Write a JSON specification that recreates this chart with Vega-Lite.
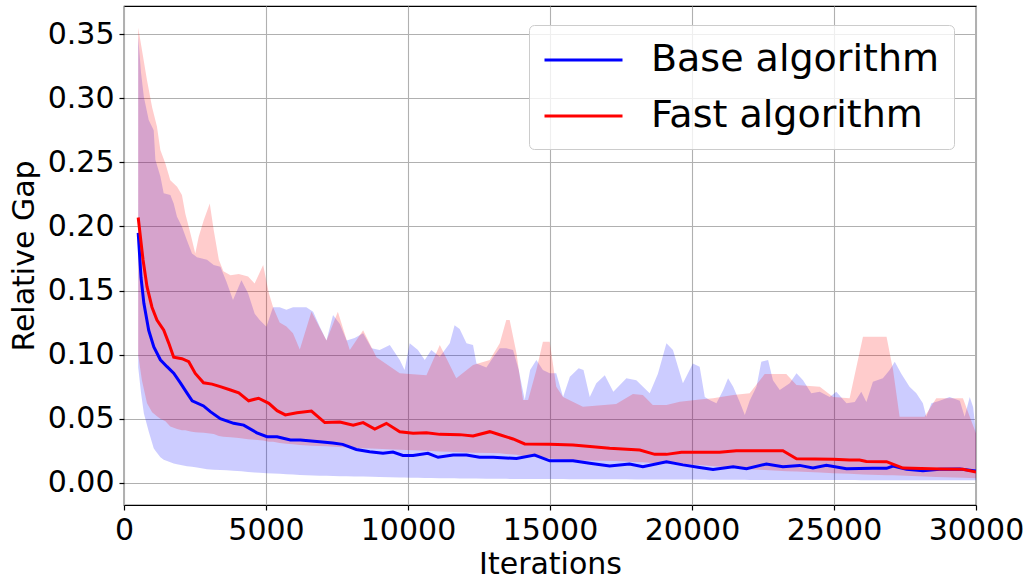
{
  "$schema": "https://vega.github.io/schema/vega-lite/v6.json",
  "width": 852,
  "height": 499,
  "autosize": "none",
  "padding": {"left": 124, "top": 6, "right": 53, "bottom": 76},
  "background": "white",
  "config": {
    "font": "DejaVu Sans",
    "view": {"stroke": "black", "strokeWidth": 1.2},
    "axis": {
      "labelFont": "DejaVu Sans", "titleFont": "DejaVu Sans",
      "labelFontSize": 30, "titleFontSize": 30,
      "labelColor": "black", "titleColor": "black",
      "titleFontWeight": "normal",
      "tickColor": "black", "tickSize": 5, "tickWidth": 1.2,
      "domain": false,
      "gridColor": "#b0b0b0", "gridWidth": 1.1, "gridOpacity": 1,
      "labelPadding": 5, "labelFlush": false, "labelOverlap": false
    },
    "legend": {
      "padding": 14, "rowPadding": 16,
      "symbolType": "M-1,0H3", "symbolSize": 1521, "symbolStrokeWidth": 3,
      "labelFont": "DejaVu Sans", "labelFontSize": 38, "labelColor": "black",
      "labelOffset": 66, "labelLimit": 1000,
      "strokeColor": "#cccccc", "fillColor": "rgba(255,255,255,0.8)", "cornerRadius": 5
    }
  },
  "datasets": {
    "bands": [
      {"s":"Base algorithm","x":500,"lo":0.090,"hi":0.348},
      {"s":"Base algorithm","x":600,"lo":0.070,"hi":0.320},
      {"s":"Base algorithm","x":700,"lo":0.054,"hi":0.301},
      {"s":"Base algorithm","x":870,"lo":0.040,"hi":0.283},
      {"s":"Base algorithm","x":1046,"lo":0.027,"hi":0.275},
      {"s":"Base algorithm","x":1105,"lo":0.025,"hi":0.252},
      {"s":"Base algorithm","x":1282,"lo":0.020,"hi":0.239},
      {"s":"Base algorithm","x":1398,"lo":0.018,"hi":0.226},
      {"s":"Base algorithm","x":1633,"lo":0.016,"hi":0.2245},
      {"s":"Base algorithm","x":1750,"lo":0.015,"hi":0.218},
      {"s":"Base algorithm","x":1866,"lo":0.0145,"hi":0.2076},
      {"s":"Base algorithm","x":2042,"lo":0.0138,"hi":0.1998},
      {"s":"Base algorithm","x":2218,"lo":0.013,"hi":0.189},
      {"s":"Base algorithm","x":2394,"lo":0.0125,"hi":0.179},
      {"s":"Base algorithm","x":2570,"lo":0.012,"hi":0.176},
      {"s":"Base algorithm","x":2923,"lo":0.0105,"hi":0.174},
      {"s":"Base algorithm","x":3158,"lo":0.0102,"hi":0.170},
      {"s":"Base algorithm","x":3394,"lo":0.010,"hi":0.1686},
      {"s":"Base algorithm","x":3605,"lo":0.0098,"hi":0.157},
      {"s":"Base algorithm","x":3838,"lo":0.0095,"hi":0.1426},
      {"s":"Base algorithm","x":4134,"lo":0.009,"hi":0.158},
      {"s":"Base algorithm","x":4366,"lo":0.0085,"hi":0.148},
      {"s":"Base algorithm","x":4602,"lo":0.008,"hi":0.132},
      {"s":"Base algorithm","x":4778,"lo":0.0078,"hi":0.127},
      {"s":"Base algorithm","x":5014,"lo":0.0075,"hi":0.1218},
      {"s":"Base algorithm","x":5246,"lo":0.0072,"hi":0.137},
      {"s":"Base algorithm","x":5482,"lo":0.007,"hi":0.137},
      {"s":"Base algorithm","x":5718,"lo":0.0067,"hi":0.135},
      {"s":"Base algorithm","x":5951,"lo":0.0064,"hi":0.137},
      {"s":"Base algorithm","x":6187,"lo":0.0062,"hi":0.137},
      {"s":"Base algorithm","x":6420,"lo":0.006,"hi":0.137},
      {"s":"Base algorithm","x":6660,"lo":0.0058,"hi":0.1335},
      {"s":"Base algorithm","x":6890,"lo":0.0056,"hi":0.122},
      {"s":"Base algorithm","x":7130,"lo":0.0055,"hi":0.111},
      {"s":"Base algorithm","x":7360,"lo":0.0054,"hi":0.131},
      {"s":"Base algorithm","x":7600,"lo":0.0052,"hi":0.124},
      {"s":"Base algorithm","x":7840,"lo":0.0051,"hi":0.111},
      {"s":"Base algorithm","x":8120,"lo":0.005,"hi":0.113},
      {"s":"Base algorithm","x":8420,"lo":0.0049,"hi":0.1166},
      {"s":"Base algorithm","x":8720,"lo":0.0047,"hi":0.105},
      {"s":"Base algorithm","x":9000,"lo":0.0046,"hi":0.1036},
      {"s":"Base algorithm","x":9360,"lo":0.0044,"hi":0.1075},
      {"s":"Base algorithm","x":9710,"lo":0.0042,"hi":0.0958},
      {"s":"Base algorithm","x":9880,"lo":0.0041,"hi":0.088},
      {"s":"Base algorithm","x":10060,"lo":0.004,"hi":0.1088},
      {"s":"Base algorithm","x":10350,"lo":0.0039,"hi":0.1036},
      {"s":"Base algorithm","x":10590,"lo":0.0038,"hi":0.0958},
      {"s":"Base algorithm","x":10820,"lo":0.0037,"hi":0.1036},
      {"s":"Base algorithm","x":11120,"lo":0.0036,"hi":0.0984},
      {"s":"Base algorithm","x":11470,"lo":0.0035,"hi":0.1088},
      {"s":"Base algorithm","x":11640,"lo":0.0035,"hi":0.123},
      {"s":"Base algorithm","x":11820,"lo":0.0034,"hi":0.12},
      {"s":"Base algorithm","x":12060,"lo":0.0034,"hi":0.1088},
      {"s":"Base algorithm","x":12290,"lo":0.0033,"hi":0.1075},
      {"s":"Base algorithm","x":12410,"lo":0.0033,"hi":0.093},
      {"s":"Base algorithm","x":12760,"lo":0.0032,"hi":0.09},
      {"s":"Base algorithm","x":13000,"lo":0.0032,"hi":0.098},
      {"s":"Base algorithm","x":13230,"lo":0.0031,"hi":0.105},
      {"s":"Base algorithm","x":13460,"lo":0.0031,"hi":0.105},
      {"s":"Base algorithm","x":13700,"lo":0.003,"hi":0.1036},
      {"s":"Base algorithm","x":13900,"lo":0.003,"hi":0.088},
      {"s":"Base algorithm","x":14110,"lo":0.003,"hi":0.0646},
      {"s":"Base algorithm","x":14300,"lo":0.003,"hi":0.088},
      {"s":"Base algorithm","x":14520,"lo":0.003,"hi":0.0958},
      {"s":"Base algorithm","x":14750,"lo":0.0029,"hi":0.088},
      {"s":"Base algorithm","x":14990,"lo":0.0029,"hi":0.0854},
      {"s":"Base algorithm","x":15220,"lo":0.0029,"hi":0.0854},
      {"s":"Base algorithm","x":15460,"lo":0.0029,"hi":0.067},
      {"s":"Base algorithm","x":15700,"lo":0.0028,"hi":0.0828},
      {"s":"Base algorithm","x":16010,"lo":0.0028,"hi":0.0893},
      {"s":"Base algorithm","x":16180,"lo":0.0028,"hi":0.088},
      {"s":"Base algorithm","x":16400,"lo":0.0028,"hi":0.067},
      {"s":"Base algorithm","x":16630,"lo":0.0027,"hi":0.0776},
      {"s":"Base algorithm","x":16930,"lo":0.0027,"hi":0.084},
      {"s":"Base algorithm","x":17230,"lo":0.0027,"hi":0.071},
      {"s":"Base algorithm","x":17690,"lo":0.0027,"hi":0.0815},
      {"s":"Base algorithm","x":18040,"lo":0.0026,"hi":0.080},
      {"s":"Base algorithm","x":18510,"lo":0.0026,"hi":0.0698},
      {"s":"Base algorithm","x":18800,"lo":0.0026,"hi":0.085},
      {"s":"Base algorithm","x":19100,"lo":0.0026,"hi":0.1088},
      {"s":"Base algorithm","x":19330,"lo":0.0025,"hi":0.1036},
      {"s":"Base algorithm","x":19680,"lo":0.0025,"hi":0.0776},
      {"s":"Base algorithm","x":20030,"lo":0.0025,"hi":0.093},
      {"s":"Base algorithm","x":20270,"lo":0.0025,"hi":0.0906},
      {"s":"Base algorithm","x":20450,"lo":0.0025,"hi":0.067},
      {"s":"Base algorithm","x":20620,"lo":0.0024,"hi":0.0646},
      {"s":"Base algorithm","x":20860,"lo":0.0024,"hi":0.062},
      {"s":"Base algorithm","x":21100,"lo":0.0024,"hi":0.0724},
      {"s":"Base algorithm","x":21270,"lo":0.0024,"hi":0.0815},
      {"s":"Base algorithm","x":21450,"lo":0.0024,"hi":0.075},
      {"s":"Base algorithm","x":21680,"lo":0.0024,"hi":0.063},
      {"s":"Base algorithm","x":21860,"lo":0.0024,"hi":0.0529},
      {"s":"Base algorithm","x":22030,"lo":0.0023,"hi":0.064},
      {"s":"Base algorithm","x":22270,"lo":0.0023,"hi":0.075},
      {"s":"Base algorithm","x":22440,"lo":0.0023,"hi":0.0945},
      {"s":"Base algorithm","x":22680,"lo":0.0023,"hi":0.0958},
      {"s":"Base algorithm","x":22850,"lo":0.0023,"hi":0.080},
      {"s":"Base algorithm","x":23090,"lo":0.0023,"hi":0.0724},
      {"s":"Base algorithm","x":23440,"lo":0.0023,"hi":0.0776},
      {"s":"Base algorithm","x":23680,"lo":0.0022,"hi":0.0854},
      {"s":"Base algorithm","x":23910,"lo":0.0022,"hi":0.080},
      {"s":"Base algorithm","x":24200,"lo":0.0022,"hi":0.0698},
      {"s":"Base algorithm","x":24500,"lo":0.0022,"hi":0.071},
      {"s":"Base algorithm","x":24850,"lo":0.0022,"hi":0.067},
      {"s":"Base algorithm","x":25080,"lo":0.0022,"hi":0.071},
      {"s":"Base algorithm","x":25440,"lo":0.0022,"hi":0.062},
      {"s":"Base algorithm","x":25730,"lo":0.0022,"hi":0.063},
      {"s":"Base algorithm","x":25960,"lo":0.0021,"hi":0.071},
      {"s":"Base algorithm","x":26140,"lo":0.0021,"hi":0.063},
      {"s":"Base algorithm","x":26370,"lo":0.0021,"hi":0.0789},
      {"s":"Base algorithm","x":26720,"lo":0.0021,"hi":0.0815},
      {"s":"Base algorithm","x":26960,"lo":0.0021,"hi":0.088},
      {"s":"Base algorithm","x":27140,"lo":0.0021,"hi":0.0945},
      {"s":"Base algorithm","x":27370,"lo":0.0021,"hi":0.085},
      {"s":"Base algorithm","x":27660,"lo":0.0021,"hi":0.075},
      {"s":"Base algorithm","x":27900,"lo":0.0021,"hi":0.0698},
      {"s":"Base algorithm","x":28130,"lo":0.002,"hi":0.062},
      {"s":"Base algorithm","x":28250,"lo":0.002,"hi":0.0516},
      {"s":"Base algorithm","x":28430,"lo":0.002,"hi":0.062},
      {"s":"Base algorithm","x":28720,"lo":0.002,"hi":0.064},
      {"s":"Base algorithm","x":29070,"lo":0.002,"hi":0.067},
      {"s":"Base algorithm","x":29430,"lo":0.002,"hi":0.064},
      {"s":"Base algorithm","x":29600,"lo":0.002,"hi":0.0516},
      {"s":"Base algorithm","x":29780,"lo":0.002,"hi":0.067},
      {"s":"Base algorithm","x":29900,"lo":0.002,"hi":0.059},
      {"s":"Base algorithm","x":30000,"lo":0.002,"hi":0.0386},
      {"s":"Fast algorithm","x":500,"lo":0.100,"hi":0.355},
      {"s":"Fast algorithm","x":630,"lo":0.080,"hi":0.338},
      {"s":"Fast algorithm","x":810,"lo":0.062,"hi":0.314},
      {"s":"Fast algorithm","x":990,"lo":0.055,"hi":0.293},
      {"s":"Fast algorithm","x":1160,"lo":0.052,"hi":0.278},
      {"s":"Fast algorithm","x":1280,"lo":0.050,"hi":0.2596},
      {"s":"Fast algorithm","x":1460,"lo":0.048,"hi":0.249},
      {"s":"Fast algorithm","x":1630,"lo":0.044,"hi":0.236},
      {"s":"Fast algorithm","x":1870,"lo":0.042,"hi":0.231},
      {"s":"Fast algorithm","x":2040,"lo":0.041,"hi":0.2245},
      {"s":"Fast algorithm","x":2160,"lo":0.041,"hi":0.210},
      {"s":"Fast algorithm","x":2340,"lo":0.040,"hi":0.1946},
      {"s":"Fast algorithm","x":2510,"lo":0.0395,"hi":0.179},
      {"s":"Fast algorithm","x":2630,"lo":0.0392,"hi":0.192},
      {"s":"Fast algorithm","x":2810,"lo":0.039,"hi":0.205},
      {"s":"Fast algorithm","x":3020,"lo":0.0385,"hi":0.218},
      {"s":"Fast algorithm","x":3160,"lo":0.038,"hi":0.197},
      {"s":"Fast algorithm","x":3340,"lo":0.0365,"hi":0.174},
      {"s":"Fast algorithm","x":3500,"lo":0.036,"hi":0.165},
      {"s":"Fast algorithm","x":3750,"lo":0.0355,"hi":0.162},
      {"s":"Fast algorithm","x":4040,"lo":0.035,"hi":0.163},
      {"s":"Fast algorithm","x":4370,"lo":0.034,"hi":0.161},
      {"s":"Fast algorithm","x":4600,"lo":0.0336,"hi":0.1556},
      {"s":"Fast algorithm","x":4900,"lo":0.033,"hi":0.170},
      {"s":"Fast algorithm","x":5100,"lo":0.032,"hi":0.148},
      {"s":"Fast algorithm","x":5250,"lo":0.032,"hi":0.137},
      {"s":"Fast algorithm","x":5480,"lo":0.031,"hi":0.125},
      {"s":"Fast algorithm","x":5720,"lo":0.0305,"hi":0.122},
      {"s":"Fast algorithm","x":5950,"lo":0.030,"hi":0.1166},
      {"s":"Fast algorithm","x":6190,"lo":0.0295,"hi":0.104},
      {"s":"Fast algorithm","x":6600,"lo":0.029,"hi":0.1335},
      {"s":"Fast algorithm","x":7130,"lo":0.0285,"hi":0.111},
      {"s":"Fast algorithm","x":7530,"lo":0.028,"hi":0.1335},
      {"s":"Fast algorithm","x":7950,"lo":0.0275,"hi":0.1036},
      {"s":"Fast algorithm","x":8420,"lo":0.027,"hi":0.119},
      {"s":"Fast algorithm","x":8890,"lo":0.0265,"hi":0.098},
      {"s":"Fast algorithm","x":9710,"lo":0.0258,"hi":0.0854},
      {"s":"Fast algorithm","x":10650,"lo":0.025,"hi":0.084},
      {"s":"Fast algorithm","x":11120,"lo":0.0245,"hi":0.1075},
      {"s":"Fast algorithm","x":11700,"lo":0.024,"hi":0.0815},
      {"s":"Fast algorithm","x":12290,"lo":0.0235,"hi":0.092},
      {"s":"Fast algorithm","x":12880,"lo":0.0232,"hi":0.0958},
      {"s":"Fast algorithm","x":13230,"lo":0.023,"hi":0.1088},
      {"s":"Fast algorithm","x":13460,"lo":0.0225,"hi":0.127},
      {"s":"Fast algorithm","x":13580,"lo":0.0222,"hi":0.127},
      {"s":"Fast algorithm","x":13820,"lo":0.022,"hi":0.101},
      {"s":"Fast algorithm","x":14050,"lo":0.021,"hi":0.0646},
      {"s":"Fast algorithm","x":14230,"lo":0.0205,"hi":0.0646},
      {"s":"Fast algorithm","x":14520,"lo":0.020,"hi":0.088},
      {"s":"Fast algorithm","x":14750,"lo":0.0195,"hi":0.110},
      {"s":"Fast algorithm","x":14990,"lo":0.019,"hi":0.110},
      {"s":"Fast algorithm","x":15220,"lo":0.0185,"hi":0.075},
      {"s":"Fast algorithm","x":15460,"lo":0.018,"hi":0.067},
      {"s":"Fast algorithm","x":16160,"lo":0.0175,"hi":0.0594},
      {"s":"Fast algorithm","x":17330,"lo":0.017,"hi":0.0615},
      {"s":"Fast algorithm","x":17920,"lo":0.0162,"hi":0.0693},
      {"s":"Fast algorithm","x":18270,"lo":0.016,"hi":0.0685},
      {"s":"Fast algorithm","x":18620,"lo":0.0155,"hi":0.0607},
      {"s":"Fast algorithm","x":19100,"lo":0.015,"hi":0.0607},
      {"s":"Fast algorithm","x":19570,"lo":0.0145,"hi":0.0633},
      {"s":"Fast algorithm","x":20270,"lo":0.014,"hi":0.065},
      {"s":"Fast algorithm","x":20740,"lo":0.013,"hi":0.066},
      {"s":"Fast algorithm","x":21450,"lo":0.012,"hi":0.0685},
      {"s":"Fast algorithm","x":22030,"lo":0.0105,"hi":0.0698},
      {"s":"Fast algorithm","x":22560,"lo":0.010,"hi":0.0849},
      {"s":"Fast algorithm","x":23320,"lo":0.009,"hi":0.0849},
      {"s":"Fast algorithm","x":23680,"lo":0.0088,"hi":0.0763},
      {"s":"Fast algorithm","x":24500,"lo":0.008,"hi":0.075},
      {"s":"Fast algorithm","x":24970,"lo":0.0075,"hi":0.067},
      {"s":"Fast algorithm","x":25550,"lo":0.007,"hi":0.066},
      {"s":"Fast algorithm","x":26020,"lo":0.0065,"hi":0.114},
      {"s":"Fast algorithm","x":26850,"lo":0.006,"hi":0.114},
      {"s":"Fast algorithm","x":27080,"lo":0.006,"hi":0.088},
      {"s":"Fast algorithm","x":27310,"lo":0.0058,"hi":0.0516},
      {"s":"Fast algorithm","x":28190,"lo":0.005,"hi":0.0516},
      {"s":"Fast algorithm","x":28600,"lo":0.0045,"hi":0.066},
      {"s":"Fast algorithm","x":29540,"lo":0.004,"hi":0.066},
      {"s":"Fast algorithm","x":29780,"lo":0.0037,"hi":0.0516},
      {"s":"Fast algorithm","x":30000,"lo":0.0035,"hi":0.0386}
    ],
    "lines": [
      {"s":"Base algorithm","x":500,"y":0.195},
      {"s":"Base algorithm","x":600,"y":0.160},
      {"s":"Base algorithm","x":700,"y":0.140},
      {"s":"Base algorithm","x":870,"y":0.119},
      {"s":"Base algorithm","x":1050,"y":0.106},
      {"s":"Base algorithm","x":1280,"y":0.096},
      {"s":"Base algorithm","x":1515,"y":0.0906},
      {"s":"Base algorithm","x":1750,"y":0.0856},
      {"s":"Base algorithm","x":1985,"y":0.078},
      {"s":"Base algorithm","x":2220,"y":0.070},
      {"s":"Base algorithm","x":2400,"y":0.064},
      {"s":"Base algorithm","x":2800,"y":0.060},
      {"s":"Base algorithm","x":3040,"y":0.0555},
      {"s":"Base algorithm","x":3390,"y":0.050},
      {"s":"Base algorithm","x":3860,"y":0.0464},
      {"s":"Base algorithm","x":4215,"y":0.045},
      {"s":"Base algorithm","x":4680,"y":0.039},
      {"s":"Base algorithm","x":5035,"y":0.036},
      {"s":"Base algorithm","x":5390,"y":0.036},
      {"s":"Base algorithm","x":5860,"y":0.0334},
      {"s":"Base algorithm","x":6210,"y":0.0334},
      {"s":"Base algorithm","x":6890,"y":0.032},
      {"s":"Base algorithm","x":7350,"y":0.031},
      {"s":"Base algorithm","x":7700,"y":0.030},
      {"s":"Base algorithm","x":8180,"y":0.026},
      {"s":"Base algorithm","x":8650,"y":0.0243},
      {"s":"Base algorithm","x":9120,"y":0.023},
      {"s":"Base algorithm","x":9470,"y":0.024},
      {"s":"Base algorithm","x":9820,"y":0.0214},
      {"s":"Base algorithm","x":10180,"y":0.0214},
      {"s":"Base algorithm","x":10700,"y":0.023},
      {"s":"Base algorithm","x":11060,"y":0.0199},
      {"s":"Base algorithm","x":11590,"y":0.0217},
      {"s":"Base algorithm","x":12060,"y":0.0217},
      {"s":"Base algorithm","x":12520,"y":0.0199},
      {"s":"Base algorithm","x":13000,"y":0.0199},
      {"s":"Base algorithm","x":13820,"y":0.019},
      {"s":"Base algorithm","x":14460,"y":0.0217},
      {"s":"Base algorithm","x":14990,"y":0.0172},
      {"s":"Base algorithm","x":15810,"y":0.0172},
      {"s":"Base algorithm","x":16400,"y":0.0152},
      {"s":"Base algorithm","x":17100,"y":0.0131},
      {"s":"Base algorithm","x":17800,"y":0.0147},
      {"s":"Base algorithm","x":18270,"y":0.0126},
      {"s":"Base algorithm","x":19100,"y":0.0165},
      {"s":"Base algorithm","x":19680,"y":0.014},
      {"s":"Base algorithm","x":20270,"y":0.012},
      {"s":"Base algorithm","x":20740,"y":0.0105},
      {"s":"Base algorithm","x":21450,"y":0.0126},
      {"s":"Base algorithm","x":21920,"y":0.011},
      {"s":"Base algorithm","x":22620,"y":0.0147},
      {"s":"Base algorithm","x":23200,"y":0.0126},
      {"s":"Base algorithm","x":23790,"y":0.0136},
      {"s":"Base algorithm","x":24260,"y":0.0116},
      {"s":"Base algorithm","x":24730,"y":0.0136},
      {"s":"Base algorithm","x":25440,"y":0.011},
      {"s":"Base algorithm","x":26370,"y":0.0113},
      {"s":"Base algorithm","x":26850,"y":0.0113},
      {"s":"Base algorithm","x":27080,"y":0.0131},
      {"s":"Base algorithm","x":27550,"y":0.0105},
      {"s":"Base algorithm","x":28130,"y":0.0095},
      {"s":"Base algorithm","x":28720,"y":0.0105},
      {"s":"Base algorithm","x":29430,"y":0.0107},
      {"s":"Base algorithm","x":30000,"y":0.0092},
      {"s":"Fast algorithm","x":500,"y":0.207},
      {"s":"Fast algorithm","x":670,"y":0.174},
      {"s":"Fast algorithm","x":810,"y":0.153},
      {"s":"Fast algorithm","x":985,"y":0.137},
      {"s":"Fast algorithm","x":1160,"y":0.127},
      {"s":"Fast algorithm","x":1400,"y":0.119},
      {"s":"Fast algorithm","x":1575,"y":0.109},
      {"s":"Fast algorithm","x":1750,"y":0.098},
      {"s":"Fast algorithm","x":2040,"y":0.0968},
      {"s":"Fast algorithm","x":2280,"y":0.0945},
      {"s":"Fast algorithm","x":2510,"y":0.0854},
      {"s":"Fast algorithm","x":2800,"y":0.078},
      {"s":"Fast algorithm","x":3100,"y":0.077},
      {"s":"Fast algorithm","x":3390,"y":0.075},
      {"s":"Fast algorithm","x":3750,"y":0.0724},
      {"s":"Fast algorithm","x":4040,"y":0.0703},
      {"s":"Fast algorithm","x":4390,"y":0.064},
      {"s":"Fast algorithm","x":4740,"y":0.066},
      {"s":"Fast algorithm","x":5100,"y":0.062},
      {"s":"Fast algorithm","x":5390,"y":0.0563},
      {"s":"Fast algorithm","x":5680,"y":0.053},
      {"s":"Fast algorithm","x":6090,"y":0.0547},
      {"s":"Fast algorithm","x":6600,"y":0.056},
      {"s":"Fast algorithm","x":7070,"y":0.047},
      {"s":"Fast algorithm","x":7600,"y":0.0475},
      {"s":"Fast algorithm","x":8070,"y":0.045},
      {"s":"Fast algorithm","x":8420,"y":0.047},
      {"s":"Fast algorithm","x":8830,"y":0.042},
      {"s":"Fast algorithm","x":9240,"y":0.0464},
      {"s":"Fast algorithm","x":9710,"y":0.0399},
      {"s":"Fast algorithm","x":10180,"y":0.0386},
      {"s":"Fast algorithm","x":10650,"y":0.039},
      {"s":"Fast algorithm","x":11120,"y":0.0378},
      {"s":"Fast algorithm","x":11820,"y":0.0376},
      {"s":"Fast algorithm","x":12290,"y":0.0365},
      {"s":"Fast algorithm","x":12880,"y":0.0399},
      {"s":"Fast algorithm","x":13230,"y":0.0375},
      {"s":"Fast algorithm","x":13700,"y":0.0342},
      {"s":"Fast algorithm","x":14110,"y":0.0303},
      {"s":"Fast algorithm","x":14990,"y":0.030},
      {"s":"Fast algorithm","x":15810,"y":0.0295},
      {"s":"Fast algorithm","x":16510,"y":0.0282},
      {"s":"Fast algorithm","x":17100,"y":0.0269},
      {"s":"Fast algorithm","x":18160,"y":0.0256},
      {"s":"Fast algorithm","x":18690,"y":0.0222},
      {"s":"Fast algorithm","x":19100,"y":0.0222},
      {"s":"Fast algorithm","x":19630,"y":0.0238},
      {"s":"Fast algorithm","x":20270,"y":0.0238},
      {"s":"Fast algorithm","x":20970,"y":0.0238},
      {"s":"Fast algorithm","x":21560,"y":0.025},
      {"s":"Fast algorithm","x":23200,"y":0.025},
      {"s":"Fast algorithm","x":23680,"y":0.0188},
      {"s":"Fast algorithm","x":24970,"y":0.0183},
      {"s":"Fast algorithm","x":25550,"y":0.0178},
      {"s":"Fast algorithm","x":25900,"y":0.0178},
      {"s":"Fast algorithm","x":26140,"y":0.0167},
      {"s":"Fast algorithm","x":26850,"y":0.0165},
      {"s":"Fast algorithm","x":27430,"y":0.0115},
      {"s":"Fast algorithm","x":28720,"y":0.0108},
      {"s":"Fast algorithm","x":29540,"y":0.0105},
      {"s":"Fast algorithm","x":30000,"y":0.0084}
    ]
  },
  "encoding": {
    "x": {"field": "x", "type": "quantitative",
          "scale": {"domain": [0, 30000], "nice": false, "zero": false},
          "axis": {"title": "Iterations", "values": [0,5000,10000,15000,20000,25000,30000], "format": "d", "titlePadding": 4}}
  },
  "layer": [
    {
      "data": {"name": "bands"},
      "transform": [{"filter": "datum.s === 'Base algorithm'"}],
      "mark": {"type": "area", "fill": "#0000ff", "fillOpacity": 0.2, "clip": true},
      "encoding": {
        "y": {"field": "lo", "type": "quantitative",
              "scale": {"domain": [-0.0173, 0.372], "nice": false, "zero": false},
              "axis": {"title": "Relative Gap", "values": [0,0.05,0.1,0.15,0.2,0.25,0.3,0.35], "format": ".2f", "titlePadding": 8}},
        "y2": {"field": "hi"}
      }
    },
    {
      "data": {"name": "bands"},
      "transform": [{"filter": "datum.s === 'Fast algorithm'"}],
      "mark": {"type": "area", "fill": "#ff0000", "fillOpacity": 0.2, "clip": true},
      "encoding": {
        "y": {"field": "lo", "type": "quantitative"},
        "y2": {"field": "hi"}
      }
    },
    {
      "data": {"name": "lines"},
      "mark": {"type": "line", "strokeWidth": 3, "clip": true},
      "encoding": {
        "y": {"field": "y", "type": "quantitative"},
        "color": {"field": "s", "type": "nominal",
                  "scale": {"domain": ["Base algorithm", "Fast algorithm"], "range": ["#0000ff", "#ff0000"]},
                  "legend": {"title": null, "orient": "none", "legendX": 405, "legendY": 19}}
      }
    }
  ]
}
